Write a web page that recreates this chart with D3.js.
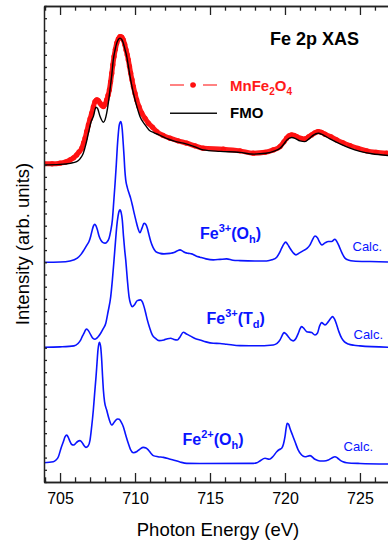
<!DOCTYPE html>
<html><head><meta charset="utf-8">
<script src="https://cdn.jsdelivr.net/npm/d3@7"></script>
<style>html,body{margin:0;padding:0;background:#fff;} svg{display:block;font-family:"Liberation Sans",Arial,sans-serif;}</style>
</head><body><svg id="c" width="388" height="544"></svg>
<script>
// ---- data (photon energy in eV, intensity in arb. units incl. vertical offset) ----
const expE = [703.93,704.47,705.00,705.40,705.67,705.90,706.11,706.27,706.45,706.57,706.67,706.78,706.89,707.00,707.11,707.22,707.33,707.45,707.55,707.67,707.78,707.89,708.00,708.11,708.20,708.29,708.37,708.45,708.52,708.60,708.69,708.78,708.89,709.00,709.11,709.22,709.31,709.40,709.48,709.55,709.63,709.71,709.80,709.89,710.00,710.11,710.27,710.45,710.67,710.89,711.17,711.45,711.87,712.33,712.87,713.45,714.00,714.55,715.89,717.00,717.89,718.67,719.22,719.67,719.93,720.11,720.27,720.45,720.60,720.78,721.07,721.33,721.57,721.78,722.00,722.22,722.43,722.67,723.07,723.45,723.87,724.33,724.87,725.45,726.07,726.78];
const expI = [26.07,26.07,26.12,26.23,26.39,26.56,26.80,27.05,27.35,27.79,28.17,28.73,29.26,29.75,30.22,30.74,31.17,31.31,31.25,31.04,30.86,30.76,30.94,31.31,31.68,32.13,32.79,33.50,34.18,34.86,35.45,35.96,36.31,36.50,36.45,36.23,35.86,35.41,35.00,34.59,34.06,33.50,32.95,32.40,31.84,31.31,30.74,30.22,29.80,29.40,29.06,28.71,28.40,28.17,27.95,27.76,27.54,27.35,27.27,27.13,26.94,27.01,27.21,27.48,27.87,28.17,28.36,28.44,28.40,28.30,28.16,28.11,28.28,28.44,28.61,28.71,28.65,28.50,28.28,28.03,27.79,27.57,27.34,27.13,27.01,26.94];

const fmoE = [703.93,705.00,705.67,706.11,706.33,706.55,706.73,706.89,707.07,707.22,707.40,707.50,707.67,707.89,708.00,708.11,708.23,708.33,708.45,708.55,708.67,708.78,708.89,709.00,709.11,709.22,709.33,709.45,709.55,709.67,709.78,709.89,710.11,710.33,710.67,710.93,711.27,711.60,712.05,712.67,713.22,714.00,714.55,715.67,717.00,717.89,718.73,719.33,719.67,719.93,720.13,720.45,720.67,721.00,721.33,721.60,721.87,722.22,722.53,723.00,723.67,724.33,725.00,725.80,726.87];
const fmoI = [25.98,26.02,26.11,26.25,26.48,26.94,27.70,28.58,29.51,29.94,30.71,30.61,29.94,29.48,29.67,30.22,31.15,32.13,33.36,34.59,35.41,35.96,36.27,36.37,36.27,35.96,35.45,34.86,34.10,33.22,32.50,31.86,30.82,29.94,29.26,28.85,28.61,28.44,28.17,27.91,27.76,27.46,27.21,27.09,27.01,26.86,26.93,27.13,27.34,27.70,28.03,28.22,28.16,27.95,27.89,28.11,28.40,28.58,28.44,28.11,27.70,27.35,27.09,26.89,26.75];

const fe3OhE = [703.93,705.00,705.67,706.15,706.40,706.60,706.80,706.93,707.05,707.15,707.23,707.31,707.40,707.49,707.60,707.71,707.87,708.00,708.13,708.27,708.38,708.49,708.58,708.67,708.75,708.82,708.89,708.95,709.05,709.10,709.15,709.21,709.27,709.32,709.38,709.49,709.60,709.71,709.82,709.93,710.05,710.19,710.33,710.47,710.60,710.71,710.82,710.93,711.05,711.20,711.38,711.67,711.93,712.33,712.60,712.80,713.00,713.17,713.33,713.57,713.78,714.07,714.33,714.73,715.22,715.67,716.11,716.53,717.00,718.00,718.78,719.13,719.45,719.63,719.78,719.91,720.05,720.18,720.33,720.53,720.73,720.97,721.22,721.47,721.67,721.83,722.00,722.17,722.30,722.45,722.67,722.89,723.11,723.33,723.47,723.62,723.80,724.00,724.27,724.55,725.67,726.87];
const fe3OhI = [18.01,18.03,18.11,18.34,18.65,19.02,19.43,19.70,20.16,20.66,20.98,21.12,20.98,20.66,20.16,19.84,19.61,19.57,19.67,19.98,20.57,21.48,22.95,24.48,25.98,27.48,28.61,29.26,29.53,29.34,28.85,27.79,26.66,25.57,24.75,24.10,23.66,23.24,22.70,22.09,21.48,20.82,20.43,20.82,21.20,21.11,20.79,20.25,19.70,19.22,18.88,18.73,18.69,18.73,18.80,18.93,19.02,18.92,18.80,18.73,18.69,18.52,18.42,18.28,18.20,18.24,18.28,18.17,18.14,18.11,18.11,18.20,18.42,18.77,19.16,19.47,19.65,19.47,19.16,18.81,18.61,18.77,18.96,19.14,19.43,19.84,20.16,20.00,19.67,19.43,19.59,19.70,19.70,19.89,19.67,19.29,18.77,18.34,18.17,18.11,18.06,18.03];

const fe3TdE = [703.93,705.00,705.93,706.20,706.38,706.50,706.60,706.70,706.78,706.90,707.05,707.20,707.33,707.50,707.71,707.87,708.05,708.20,708.38,708.49,708.60,708.69,708.78,708.87,708.93,709.00,709.08,709.15,709.23,709.31,709.38,709.49,709.60,709.71,709.82,709.98,710.15,710.38,710.49,710.60,710.71,710.82,710.98,711.15,711.37,711.60,711.93,712.17,712.38,712.60,712.82,713.00,713.22,713.43,713.67,714.00,714.33,714.73,715.22,715.67,716.11,717.00,718.00,719.22,719.47,719.67,719.80,719.93,720.07,720.22,720.40,720.55,720.73,720.89,721.00,721.11,721.23,721.45,721.78,722.00,722.17,722.30,722.45,722.57,722.67,722.89,723.07,723.18,723.30,723.45,723.60,723.78,723.97,724.22,724.60,725.00,726.87];
const fe3TdI = [11.04,11.07,11.15,11.35,11.64,11.97,12.19,12.46,12.54,12.38,12.05,11.76,11.70,11.84,12.19,12.54,13.01,13.93,15.19,16.56,18.20,19.59,20.93,21.80,22.16,22.30,22.05,21.48,20.16,19.02,18.20,16.56,15.19,14.59,14.37,14.55,14.86,14.92,14.75,14.37,13.85,13.28,12.62,12.05,11.76,11.58,11.64,11.74,11.78,11.68,11.64,11.89,12.27,12.13,11.97,11.76,11.64,11.48,11.37,11.35,11.29,11.17,11.16,11.23,11.35,11.64,11.97,12.24,12.13,11.91,11.64,11.56,11.76,12.19,12.54,12.73,12.62,12.32,12.24,12.05,12.21,12.75,13.06,12.95,12.87,13.14,13.44,13.55,13.36,12.87,12.30,11.78,11.48,11.31,11.20,11.15,11.04];

const fe2OhE = [703.93,704.55,704.73,704.89,705.07,705.22,705.33,705.45,705.55,705.67,705.78,705.89,706.00,706.17,706.33,706.47,706.60,706.73,706.87,707.00,707.10,707.22,707.31,707.40,707.47,707.53,707.62,707.70,707.77,707.83,707.89,707.97,708.11,708.27,708.45,708.60,708.73,708.83,708.95,709.07,709.22,709.38,709.55,709.70,709.89,710.13,710.33,710.55,710.73,710.89,711.07,711.22,711.53,711.89,712.20,712.55,713.00,713.45,714.33,717.89,718.13,718.33,718.67,718.95,719.20,719.45,719.63,719.78,719.90,720.00,720.08,720.15,720.25,720.33,720.50,720.67,720.87,721.11,721.33,721.67,722.00,722.33,722.60,722.89,723.13,723.33,723.50,723.67,723.87,724.11,725.00,726.87];
const fe2OhI = [1.58,1.66,1.80,2.07,2.79,3.30,3.69,3.85,3.65,3.30,3.07,3.03,3.11,3.32,3.39,3.24,2.99,2.84,2.95,3.44,4.43,5.90,7.30,8.63,9.84,10.82,11.45,11.15,10.16,8.77,7.54,6.56,5.90,5.16,4.67,4.88,5.08,5.16,5.14,4.92,4.53,3.85,3.17,2.66,2.40,2.50,2.70,2.84,2.79,2.62,2.34,2.16,2.07,2.02,1.93,1.80,1.64,1.53,1.52,1.53,1.58,1.72,1.94,1.86,2.09,2.48,2.66,2.76,3.11,3.71,4.43,4.81,4.71,4.40,3.85,3.30,2.66,2.21,2.07,2.16,1.86,1.72,1.72,1.80,1.97,2.07,1.97,1.80,1.66,1.58,1.52,1.48];

const xMajorTicks = [705, 710, 715, 720, 725];
const xMinorTicks = [704,706,707,708,709,711,712,713,714,716,717,718,719,721,722,723,724,726];
const yTicks = d3.range(0, 40, 1);
const xDomain = [703.93, 726.87];
const yDomain = [0, 39];

// ---- layout ----
const svg = d3.select("#c");
const L = 44, R = 388, T = 6, B = 482;
const x = d3.scaleLinear().domain(xDomain).range([L, R]);
const y = d3.scaleLinear().domain(yDomain).range([B, T]);

svg.append("defs").append("clipPath").attr("id","plot")
  .append("rect").attr("x",L).attr("y",T).attr("width",R-L).attr("height",B-T);

const g = svg.append("g").attr("clip-path","url(#plot)");
const zip = (E, I) => E.map((e,i)=>[e, I[i]]);
const line = d3.line().x(d=>x(d[0])).y(d=>y(d[1])).curve(d3.curveMonotoneX);

const blue = "#0a14ff";
[[fe3OhE,fe3OhI],[fe3TdE,fe3TdI],[fe2OhE,fe2OhI]].forEach(([E,I])=>{
  g.append("path").attr("d", line(zip(E,I))).attr("fill","none")
   .attr("stroke",blue).attr("stroke-width",1.6).attr("stroke-linejoin","round");
});

// experimental (dense dots)
const exp = zip(expE, expI);
g.append("path").attr("d", line(exp)).attr("fill","none")
  .attr("stroke","#ff1a1a").attr("stroke-width",5).attr("stroke-linejoin","round").attr("stroke-linecap","round");
g.selectAll("circle.exp").data(exp).enter().append("circle").attr("class","exp")
  .attr("cx",d=>x(d[0])).attr("cy",d=>y(d[1])).attr("r",2.6).attr("fill","#ff1010");

// FMO
g.append("path").attr("d", line(zip(fmoE,fmoI))).attr("fill","none")
  .attr("stroke","#000").attr("stroke-width",1.4).attr("stroke-linejoin","round");

// ---- axes ----
const axisColor = "#222";
function styleAxis(sel){
  sel.selectAll("path.domain").attr("stroke",axisColor).attr("stroke-width",1.5);
  sel.selectAll(".tick line").attr("stroke",axisColor).attr("stroke-width",1.3);
}
const bMinor = svg.append("g").attr("transform",`translate(0,${B})`)
  .call(d3.axisBottom(x).tickValues(xMinorTicks).tickSize(-4.7).tickSizeOuter(0).tickFormat(""));
styleAxis(bMinor);
const bMajor = svg.append("g").attr("transform",`translate(0,${B})`)
  .call(d3.axisBottom(x).tickValues(xMajorTicks).tickSize(-9).tickSizeOuter(0).tickPadding(11).tickFormat(d3.format("d")));
styleAxis(bMajor);
bMajor.selectAll("text").attr("font-size",16).attr("fill","#000").attr("font-family","'Liberation Sans',Arial,sans-serif");

const tMinor = svg.append("g").attr("transform",`translate(0,${T})`)
  .call(d3.axisTop(x).tickValues(xMinorTicks).tickSize(-4.7).tickSizeOuter(0).tickFormat(""));
styleAxis(tMinor);
const tMajor = svg.append("g").attr("transform",`translate(0,${T})`)
  .call(d3.axisTop(x).tickValues(xMajorTicks).tickSize(-9).tickSizeOuter(0).tickFormat(""));
styleAxis(tMajor);

const lAxis = svg.append("g").attr("transform",`translate(${L},0)`)
  .call(d3.axisLeft(y).tickValues(yTicks).tickSize(-3).tickSizeOuter(0).tickFormat(""));
styleAxis(lAxis);

// ---- titles ----
svg.append("text").attr("x", 218).attr("y", 535.5).attr("text-anchor","middle")
  .attr("font-size",18.5).attr("fill","#000").text("Photon Energy (eV)");
svg.append("text").attr("transform","translate(29,244) rotate(-90)").attr("text-anchor","middle")
  .attr("font-size",18.5).attr("fill","#000").text("Intensity (arb. units)");

svg.append("text").attr("x",270).attr("y",45).attr("font-size",18).attr("font-weight","bold")
  .attr("fill","#000").text("Fe 2p XAS");

// ---- legend ----
svg.append("line").attr("x1",170).attr("x2",217).attr("y1",85).attr("y2",85)
  .attr("stroke","#ff5a5a").attr("stroke-width",1.6).attr("stroke-dasharray","14,7,5,7,14");
svg.append("circle").attr("cx",193).attr("cy",85).attr("r",2.8).attr("fill","#ff1010");
const t1 = svg.append("text").attr("x",230).attr("y",90.5).attr("font-size",15).attr("font-weight","bold").attr("fill","#ff1a1a");
t1.append("tspan").text("MnFe");
t1.append("tspan").attr("font-size",10).attr("dy",4).text("2");
t1.append("tspan").attr("dy",-4).text("O");
t1.append("tspan").attr("font-size",10).attr("dy",4).text("4");

svg.append("line").attr("x1",170).attr("x2",217).attr("y1",113.3).attr("y2",113.3)
  .attr("stroke","#111").attr("stroke-width",1.5);
svg.append("text").attr("x",230).attr("y",118).attr("font-size",15).attr("font-weight","bold").attr("fill","#000").text("FMO");

// ---- spectrum labels ----
function ionLabel(xp, yp, charge, sym){
  const t = svg.append("text").attr("x",xp).attr("y",yp).attr("font-size",16).attr("font-weight","bold").attr("fill",blue);
  t.append("tspan").text("Fe");
  t.append("tspan").attr("font-size",11).attr("dy",-7).text(charge);
  t.append("tspan").attr("dy",7).text("(" + sym[0]);
  t.append("tspan").attr("font-size",11).attr("dy",4).text(sym[1]);
  t.append("tspan").attr("dy",-4).text(")");
}
ionLabel(200, 238.5, "3+", ["O","h"]);
ionLabel(206.5, 323.5, "3+", ["T","d"]);
ionLabel(182.5, 445, "2+", ["O","h"]);

[[352.5,250.5],[353.5,338.5],[343.5,450.5]].forEach(([a,b])=>{
  svg.append("text").attr("x",a).attr("y",b).attr("font-size",13).attr("fill",blue).text("Calc.");
});
</script></body></html>
